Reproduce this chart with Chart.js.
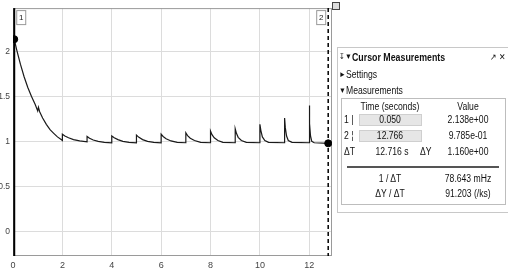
<!DOCTYPE html>
<html><head><meta charset="utf-8">
<script src="https://cdn.jsdelivr.net/npm/chart.js@4"></script>
<style>
html,body{margin:0;padding:0;background:#fff;overflow:hidden;}
#wrap{position:relative;width:509px;height:272px;font-family:"Liberation Sans",Arial,sans-serif;color:#111;}
canvas{position:absolute;left:0;top:0;}
.t{position:absolute;white-space:nowrap;font-size:10px;line-height:12px;transform:scaleX(0.86);transform-origin:left center;}
.c{transform:translateX(-50%) scaleX(0.86);transform-origin:center center;}
#panel{position:absolute;left:337px;top:47px;width:171px;height:166px;border:1px solid #c8c8c8;border-right:none;box-sizing:border-box;}
#box{position:absolute;left:341px;top:98px;width:165px;height:107px;border:1px solid #bdbdbd;box-sizing:border-box;}
.inp{position:absolute;left:359px;width:63px;height:12px;background:#e6e6e6;border:1px solid #cfcfcf;box-sizing:border-box;}
#sep{position:absolute;left:347px;top:166px;width:152px;height:2px;background:#555;}
#ico{position:absolute;left:332px;top:2px;width:6px;height:6px;border:1px solid #444;background:#ddd;}
</style></head>
<body>
<div id="wrap">
<canvas id="c" width="509" height="272"></canvas>
<div id="ico"></div>
<div id="panel"></div>
<div class="t" style="left:339px;top:51px;font-size:8px;">&#8615;</div>
<div class="t" style="left:345px;top:51px;font-size:8px;">&#9660;</div>
<div class="t" style="left:352px;top:51px;font-weight:bold;font-size:10.5px;transform:scaleX(0.84);">Cursor Measurements</div>
<div class="t" style="left:490px;top:51px;font-size:9px;">&#8599; &#10005;</div>
<div class="t" style="left:339px;top:69px;font-size:8px;">&#9658;</div>
<div class="t" style="left:346px;top:69px;">Settings</div>
<div class="t" style="left:339px;top:85px;font-size:8px;">&#9660;</div>
<div class="t" style="left:346px;top:85px;">Measurements</div>
<div id="box"></div>
<div class="inp" style="top:114px;"></div>
<div class="inp" style="top:130px;"></div>
<div id="sep"></div>
<div id="txt"></div>
</div>
<script>
// ---- data ----
const times = [0.05,0.15,0.3,0.45,0.6,0.75,0.9,1.0,1.03,1.08,1.2,1.35,1.5,1.65,1.8,1.95,2.0,
 2.0,2.1,2.25,2.45,2.7,3.0,
 3.0,3.1,3.25,3.45,3.7,4.0,
 4.0,4.1,4.25,4.45,4.7,5.0,
 5.0,5.1,5.25,5.45,5.7,6.0,
 6.0,6.08,6.2,6.4,6.65,7.0,
 7.0,7.07,7.18,7.35,7.6,8.0,
 8.0,8.06,8.15,8.3,8.5,9.0,
 9.0,9.05,9.12,9.25,9.45,10.0,
 10.0,10.04,10.1,10.2,10.35,11.0,
 11.0,11.03,11.08,11.15,11.3,12.0,
 12.0,12.02,12.05,12.1,12.2,12.766];
const values = [2.138,2.02,1.86,1.72,1.60,1.50,1.41,1.34,1.38,1.33,1.26,1.19,1.13,1.09,1.05,1.02,1.01,
 1.08,1.06,1.04,1.02,1.005,0.995,
 1.055,1.035,1.015,1.0,0.99,0.985,
 1.06,1.04,1.02,1.0,0.99,0.985,
 1.07,1.045,1.02,1.0,0.99,0.985,
 1.08,1.055,1.03,1.005,0.99,0.985,
 1.095,1.065,1.035,1.01,0.99,0.985,
 1.115,1.075,1.04,1.01,0.99,0.985,
 1.14,1.09,1.045,1.01,0.99,0.985,
 1.19,1.12,1.05,1.01,0.99,0.985,
 1.26,1.15,1.06,1.01,0.99,0.985,
 1.40,1.2,1.06,1.0,0.985,0.9785];
const cursorTimes = [0.050, 12.766];
const cursorValues = [2.138, 0.9785];
const cursorNames = ["1","2"];
const xTicks = [0,2,4,6,8,10,12];
const yTicks = [0,0.5,1,1.5,2];
const tableRows = [
 ["Time (seconds)","","Value"],
 ["0.050","","2.138e+00"],
 ["12.766","","9.785e-01"],
 ["12.716 s","\u0394Y","1.160e+00"],
 ["1 / \u0394T","","78.643 mHz"],
 ["\u0394Y / \u0394T","","91.203 (/ks)"]
];
const rowLabels = ["","1 |","2 \u00a6","\u0394T","",""];
// ---- panel text ----
const rowY=[101,114,130,146,173,188];
let h='';
tableRows.forEach((r,i)=>{
  if(rowLabels[i]) h+=`<div class="t" style="left:344px;top:${rowY[i]}px;">${rowLabels[i]}</div>`;
  h+=`<div class="t c" style="left:${i==3?392:390}px;top:${rowY[i]}px;">${r[0]}</div>`;
  if(r[1]) h+=`<div class="t" style="left:420px;top:${rowY[i]}px;">${r[1]}</div>`;
  h+=`<div class="t c" style="left:468px;top:${rowY[i]}px;">${r[2]}</div>`;
});
document.getElementById('txt').innerHTML=h;

const pts = times.map((t,i)=>({x:t,y:values[i]}));
const cur = cursorTimes.map((t,i)=>({x:t,y:cursorValues[i]}));

const overlay = {
  id:'overlay',
  beforeDatasetsDraw(chart){
    const {ctx, chartArea:a} = chart;
    ctx.save();
    ctx.strokeStyle='#9a9a9a'; ctx.lineWidth=1;
    ctx.strokeRect(a.left+0.5,a.top+0.5,a.right-a.left-1,a.bottom-a.top-1);
    ctx.restore();
  },
  afterDatasetsDraw(chart){
    const {ctx, chartArea:a, scales} = chart;
    ctx.save();
    cursorTimes.forEach((t,i)=>{
      const x = scales.x.getPixelForValue(t);
      ctx.strokeStyle='#000';
      ctx.lineWidth = i==0?2:1.5;
      ctx.setLineDash(i==0?[]:[4,3]);
      ctx.beginPath(); ctx.moveTo(x,a.top); ctx.lineTo(x,a.bottom); ctx.stroke();
      ctx.setLineDash([]);
      const bx = i==0 ? x+2 : x-12;
      ctx.fillStyle='#fff'; ctx.fillRect(bx,a.top+2,9,14);
      ctx.strokeStyle='#999'; ctx.lineWidth=1; ctx.strokeRect(bx+0.5,a.top+2.5,9,14);
      ctx.fillStyle='#222'; ctx.font='8px "Liberation Sans", Arial';
      ctx.textAlign='center'; ctx.textBaseline='middle';
      ctx.fillText(cursorNames[i],bx+5,a.top+10);
    });
    ctx.restore();
  }
};

new Chart(document.getElementById('c'),{
  type:'scatter',
  data:{datasets:[
    {data:pts,showLine:true,borderColor:'#1a1a1a',borderWidth:1.2,pointRadius:0,tension:0,order:2},
    {data:cur,showLine:false,pointRadius:3.5,pointBackgroundColor:'#000',pointBorderColor:'#000',order:1}
  ]},
  options:{
    responsive:false,animation:false,
    layout:{padding:{top:7,right:177,left:0,bottom:0}},
    plugins:{legend:{display:false},tooltip:{enabled:false}},
    scales:{
      x:{type:'linear',min:0,max:12.92,
        afterBuildTicks(s){s.ticks=xTicks.map(v=>({value:v}));},
        afterFit(s){s.height=16;},
        grid:{color:'#dcdcdc',drawTicks:false,lineWidth:1},
        border:{display:false},
        ticks:{padding:4,font:{size:9,family:'"Liberation Sans", Arial'},color:'#444',maxRotation:0,callback:v=>String(v)}},
      y:{type:'linear',min:-0.276,max:2.484,
        afterBuildTicks(s){s.ticks=yTicks.map(v=>({value:v}));},
        afterFit(s){s.width=13;},
        grid:{color:'#dcdcdc',drawTicks:false,lineWidth:1},
        border:{display:false},
        ticks:{padding:3,font:{size:8.5,family:'"Liberation Sans", Arial'},color:'#444',callback:v=>String(v)}}
    }
  },
  plugins:[overlay]
});
</script>
</body></html>
